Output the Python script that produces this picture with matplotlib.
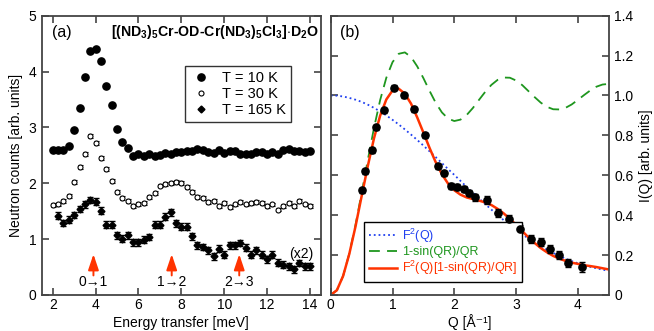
import numpy as np
import matplotlib.pyplot as plt
from matplotlib.lines import Line2D

plt.rcParams['font.family'] = ['Liberation Sans', 'DejaVu Sans']
plt.rcParams['mathtext.fontset'] = 'custom'
plt.rcParams['mathtext.rm'] = 'Liberation Sans'
plt.rcParams['mathtext.bf'] = 'Liberation Sans:bold'
plt.rcParams['font.size'] = 10

# ---- panel (a): inelastic spectra ----
energy = [2.0, 2.25, 2.5, 2.75, 3.0, 3.25, 3.5, 3.75, 4.0, 4.25, 4.5, 4.75,
          5.0, 5.25, 5.5, 5.75, 6.0, 6.25, 6.5, 6.75, 7.0, 7.25, 7.5, 7.75,
          8.0, 8.25, 8.5, 8.75, 9.0, 9.25, 9.5, 9.75, 10.0, 10.25, 10.5, 10.75,
          11.0, 11.25, 11.5, 11.75, 12.0, 12.25, 12.5, 12.75, 13.0, 13.25, 13.5,
          13.75, 14.0]
counts_10K = [2.60, 2.60, 2.59, 2.66, 2.95, 3.35, 3.90, 4.36, 4.41, 4.18, 3.74, 3.41,
              2.97, 2.73, 2.64, 2.48, 2.52, 2.48, 2.53, 2.48, 2.50, 2.54, 2.52, 2.56,
              2.56, 2.58, 2.58, 2.62, 2.59, 2.56, 2.54, 2.59, 2.54, 2.58, 2.58, 2.52,
              2.53, 2.53, 2.56, 2.56, 2.52, 2.56, 2.53, 2.59, 2.62, 2.58, 2.58, 2.56,
              2.58]
counts_30K = [1.61, 1.62, 1.69, 1.77, 2.02, 2.29, 2.52, 2.84, 2.72, 2.46, 2.26, 2.04,
              1.85, 1.74, 1.69, 1.59, 1.63, 1.65, 1.75, 1.83, 1.96, 1.99, 2.01, 2.03,
              2.01, 1.94, 1.84, 1.76, 1.73, 1.67, 1.68, 1.59, 1.64, 1.57, 1.62, 1.66,
              1.62, 1.65, 1.66, 1.64, 1.59, 1.62, 1.53, 1.60, 1.65, 1.60, 1.69, 1.62,
              1.59]
# 165 K starts at 2.25 meV, shown multiplied by 2
counts_165K = [1.42, 1.29, 1.35, 1.43, 1.54, 1.62, 1.70, 1.67, 1.51, 1.26, 1.26,
               1.07, 1.01, 1.07, 0.94, 0.94, 0.99, 1.04, 1.26, 1.26, 1.40, 1.48, 1.28,
               1.22, 1.22, 1.05, 0.89, 0.86, 0.80, 0.69, 0.83, 0.72, 0.89, 0.89, 0.93,
               0.85, 0.72, 0.80, 0.72, 0.64, 0.72, 0.58, 0.54, 0.51, 0.46, 0.57, 0.51,
               0.51]
err_30K = 0.035
err_165K = 0.06
transitions = ['0\u21921', '1\u21922', '2\u21923']
transition_E = [3.9, 7.55, 10.7]

# ---- panel (b): Q dependence ----
Q_data = [0.51, 0.56, 0.66, 0.74, 0.86, 1.02, 1.18, 1.34, 1.53, 1.74, 1.84, 1.95,
          2.05, 2.15, 2.24, 2.33, 2.53, 2.71, 2.89, 3.06, 3.24, 3.40, 3.55, 3.69,
          3.84, 4.07]
I_data = [0.525, 0.62, 0.725, 0.84, 0.925, 1.04, 1.00, 0.93, 0.80, 0.645, 0.61, 0.547,
          0.54, 0.53, 0.51, 0.49, 0.477, 0.41, 0.38, 0.33, 0.28, 0.265, 0.23, 0.20,
          0.16, 0.14]
I_err = [0.012, 0.012, 0.012, 0.012, 0.012, 0.012, 0.012, 0.012, 0.012, 0.012, 0.012,
         0.015, 0.015, 0.015, 0.015, 0.018, 0.02, 0.02, 0.02, 0.02, 0.02, 0.02, 0.02,
         0.02, 0.022, 0.025]

Q_curve = [0.0, 0.1, 0.2, 0.3, 0.4, 0.5, 0.6, 0.7, 0.8, 0.9, 1.0, 1.1, 1.2, 1.3,
           1.4, 1.5, 1.6, 1.7, 1.8, 1.9, 2.0, 2.1, 2.2, 2.3, 2.4, 2.5, 2.6, 2.7,
           2.8, 2.9, 3.0, 3.1, 3.2, 3.3, 3.4, 3.5, 3.6, 3.7, 3.8, 3.9, 4.0, 4.1,
           4.2, 4.3, 4.4, 4.5]
F2 = [1.000, 0.999, 0.995, 0.988, 0.979, 0.968, 0.954, 0.938, 0.920, 0.900, 0.878,
      0.855, 0.830, 0.804, 0.777, 0.749, 0.720, 0.691, 0.661, 0.631, 0.602, 0.572,
      0.542, 0.513, 0.484, 0.456, 0.428, 0.401, 0.375, 0.350, 0.327, 0.304, 0.283,
      0.263, 0.244, 0.227, 0.211, 0.196, 0.182, 0.170, 0.159, 0.149, 0.141, 0.134,
      0.127, 0.121]
dimer = [0.0, 0.024, 0.095, 0.207, 0.349, 0.511, 0.677, 0.837, 0.977, 1.089, 1.167,
         1.209, 1.216, 1.193, 1.146, 1.087, 1.023, 0.963, 0.915, 0.884, 0.872, 0.879,
         0.902, 0.937, 0.978, 1.018, 1.053, 1.078, 1.090, 1.089, 1.075, 1.052, 1.022,
         0.992, 0.964, 0.943, 0.931, 0.930, 0.938, 0.955, 0.978, 1.002, 1.025, 1.044,
         1.055, 1.058]
product = [0.0, 0.024, 0.095, 0.205, 0.342, 0.495, 0.646, 0.785, 0.899, 0.980, 1.025,
           1.034, 1.009, 0.959, 0.890, 0.814, 0.737, 0.665, 0.605, 0.558, 0.525, 0.503,
           0.489, 0.481, 0.473, 0.464, 0.451, 0.432, 0.409, 0.381, 0.352, 0.320, 0.289,
           0.261, 0.235, 0.214, 0.196, 0.182, 0.171, 0.162, 0.156, 0.149, 0.145, 0.140,
           0.134, 0.128]

red = '#ff3300'
green = '#1e961e'
blue = '#2040f0'
spine_col = '#444444'

fig = plt.figure(figsize=(6.54, 3.31), dpi=100)
ax1 = fig.add_axes([0.0642, 0.1088, 0.4262, 0.8438])
ax2 = fig.add_axes([0.5057, 0.1088, 0.4251, 0.8438])

for ax in (ax1, ax2):
    for s in ax.spines.values():
        s.set_color(spine_col)
        s.set_linewidth(1.3)
    ax.tick_params(direction='in', length=5, width=1.2, color=spine_col,
                   top=True, right=True, labelsize=10, pad=4)
    ax.tick_params(axis='x', pad=2.5)

# panel a
ax1.plot(energy, counts_10K, 'o', color='black', ms=5.2)
ax1.errorbar(energy, counts_30K, yerr=err_30K, fmt='o', mfc='white', mec='black',
             mew=0.8, ms=3.6, ecolor='black', elinewidth=0.8, capsize=1.8)
ax1.errorbar(energy[1:], counts_165K, yerr=err_165K, fmt='D', color='black',
             ms=3.5, ecolor='black', elinewidth=0.9, capsize=2.0)

for lab, e in zip(transitions, transition_E):
    ax1.annotate('', xy=(e, 0.73), xytext=(e, 0.35),
                 arrowprops=dict(arrowstyle='-|>,head_length=0.95,head_width=0.32',
                                 color=red, lw=1.4, shrinkA=0, shrinkB=0))
    ax1.text(e, 0.24, lab, ha='center', va='center', fontsize=10)
ax1.text(13.6, 0.73, '(x2)', ha='center', va='center', fontsize=10)

ax1.set_xlim(1.5, 14.5)
ax1.set_ylim(0, 5)
ax1.set_xticks([2, 4, 6, 8, 10, 12, 14])
ax1.set_yticks([0, 1, 2, 3, 4, 5])
ax1.set_ylabel('Neutron counts [arb. units]', labelpad=4)
ax1.text(0.036, 0.94, '(a)', transform=ax1.transAxes, fontsize=11.5,
         ha='left', va='center')
ax1.text(0.993, 0.94,
         r'[(ND$_\mathbf{3}$)$_\mathbf{5}$Cr-OD-Cr(ND$_\mathbf{3}$)$_\mathbf{5}$'
         r'Cl$_\mathbf{3}$]$\cdot$D$_\mathbf{2}$O',
         transform=ax1.transAxes, fontsize=10.2, fontweight='bold',
         ha='right', va='center')
handles_a = [
    Line2D([], [], ls='none', marker='o', color='black', ms=5.2),
    Line2D([], [], ls='none', marker='o', mfc='white', mec='black', mew=0.8, ms=3.6),
    Line2D([], [], ls='none', marker='D', color='black', ms=3.5),
]
leg1 = ax1.legend(handles_a, ['T = 10 K', 'T = 30 K', 'T = 165 K'],
                  loc='upper left', bbox_to_anchor=(0.488, 0.845), frameon=True,
                  fancybox=False, edgecolor='black', handletextpad=0.7,
                  borderpad=0.35, labelspacing=0.12, handlelength=1.5,
                  fontsize=10.5)
leg1.get_frame().set_linewidth(1.0)

# panel b
ax2.plot(Q_curve, F2, ':', color=blue, lw=1.3, label='F$^2$(Q)')
ax2.plot(Q_curve, dimer, '--', color=green, lw=1.3, dashes=(6, 4),
         label='1-sin(QR)/QR')
ax2.plot(Q_curve, product, '-', color=red, lw=1.8,
         label='F$^2$(Q)[1-sin(QR)/QR]')
ax2.errorbar(Q_data, I_data, yerr=I_err, fmt='o', color='black', ms=5.2,
             ecolor='black', elinewidth=1.0, capsize=2.2, zorder=5)

ax2.set_xlim(0, 4.5)
ax2.set_ylim(0, 1.4)
ax2.set_xticks([0, 1, 2, 3, 4])
ax2.set_yticks([0, 0.2, 0.4, 0.6, 0.8, 1.0, 1.2, 1.4])
ax2.set_yticklabels(['0', '0.2', '0.4', '0.6', '0.8', '1.0', '1.2', '1.4'])
ax2.tick_params(labelleft=False, labelright=True)
ax2.tick_params(axis='y', which='both', right=True)
ax2.yaxis.set_label_position('right')
ax2.set_ylabel('I(Q) [arb. units]', labelpad=4)
ax2.text(0.033, 0.94, '(b)', transform=ax2.transAxes, fontsize=11.5,
         ha='left', va='center')
leg2 = ax2.legend(loc='lower left', bbox_to_anchor=(0.098, 0.025), frameon=True,
                  fancybox=False, edgecolor='black', handlelength=2.3,
                  handletextpad=0.4, borderpad=0.35, labelspacing=0.1,
                  fontsize=9, framealpha=1)
leg2.get_frame().set_linewidth(1.0)
for txt, col in zip(leg2.get_texts(), (blue, green, red)):
    txt.set_color(col)

# x axis titles placed in figure coordinates so they sit on the same line
fig.text(0.277, 0.012, 'Energy transfer [meV]', ha='center', va='baseline',
         fontsize=10)
fig.text(0.718, 0.012, 'Q [\u00c5\u207b\u00b9]', ha='center', va='baseline',
         fontsize=10, family=['Liberation Sans', 'DejaVu Sans'])

fig.savefig('out.png', dpi=100)
